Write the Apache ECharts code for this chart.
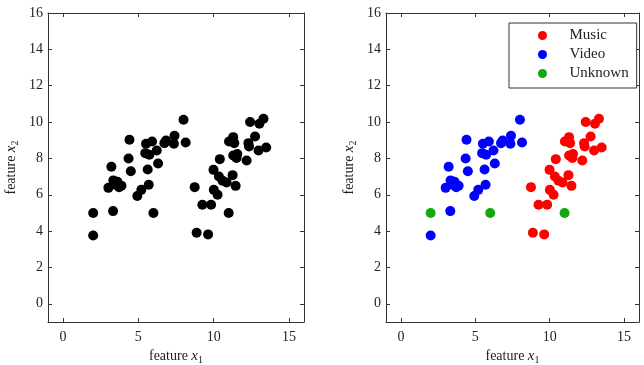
<!DOCTYPE html>
<html>
<head>
<meta charset="utf-8">
<script src="https://cdn.jsdelivr.net/npm/echarts@6/dist/echarts.min.js"></script>
<style>
  html, body {margin: 0; padding: 0; background: #fff;}
  #chart {width: 644px; height: 365px;}
</style>
</head>
<body>
<div id="chart"></div>
<script>
// points, [x1, x2]
var video = [
    [2.0, 3.76], [3.32, 5.1], [3.21, 7.54], [3.01, 6.38], [3.34, 6.79], [3.5, 6.55],
    [3.72, 6.42], [3.61, 6.72], [3.88, 6.5], [4.41, 9.03], [4.35, 8.0], [4.5, 7.29],
    [4.93, 5.93], [5.2, 6.27], [5.69, 6.55], [5.62, 7.39], [5.51, 8.81], [5.46, 8.29],
    [5.73, 8.2], [5.91, 8.93], [6.22, 8.44], [6.31, 7.72], [6.73, 8.84], [6.84, 8.99],
    [7.4, 9.25], [7.36, 8.81], [8.0, 10.13], [8.14, 8.88]
];
var music = [
    [8.74, 6.42], [8.87, 3.91], [9.63, 3.82], [9.25, 5.45], [9.83, 5.45], [9.99, 7.37],
    [10.01, 6.27], [10.26, 6.0], [10.41, 7.96], [10.35, 7.0], [10.59, 6.77], [10.86, 6.68],
    [11.26, 7.08], [11.46, 6.49], [11.02, 8.93], [11.3, 9.17], [11.37, 8.84], [11.3, 8.16],
    [11.57, 8.24], [11.52, 8.02], [12.19, 7.89], [12.42, 10.0], [12.31, 8.84], [12.35, 8.66],
    [12.75, 9.21], [13.04, 9.91], [12.98, 8.44], [13.31, 10.18], [13.49, 8.6]
];
var unknown = [[2, 5], [6, 5], [11, 5]];
var xTicks = [0, 5, 10, 15];
var yTicks = [0, 2, 4, 6, 8, 10, 12, 14, 16];
var legendNames = ['Music', 'Video', 'Unknown'];

var sFont = 'Liberation Serif';
var sFrame = '#333';

function nameRich() {
    return {
        n: {fontFamily: sFont, fontSize: 14, color: '#222'},
        i: {fontFamily: sFont, fontSize: 15, fontStyle: 'italic', color: '#222'},
        s: {fontFamily: sFont, fontSize: 10, color: '#222', padding: [7, 0, 0, 0]}
    };
}

function makeAxis(idx, dim, pos, bMain) {
    var ticks = dim === 'x' ? xTicks : yTicks;
    var oAxis = {
        type: 'value',
        gridIndex: idx,
        position: pos,
        min: -1,
        max: 16,
        axisLine: {show: true, onZero: false, lineStyle: {color: sFrame, width: 1}},
        axisTick: {show: true, inside: true, length: 4, customValues: ticks, lineStyle: {color: sFrame}},
        axisLabel: {
            show: bMain,
            customValues: ticks,
            margin: dim === 'x' ? 8 : 5,
            fontFamily: sFont,
            fontSize: 14,
            color: '#222'
        },
        splitLine: {show: false}
    };
    if (bMain) {
        oAxis.nameLocation = 'middle';
        oAxis.nameTextStyle = {rich: nameRich()};
        if (dim === 'x') {
            oAxis.name = '{n|feature }{i|x}{s|1}';
            oAxis.nameGap = 25;
        } else {
            oAxis.name = '{n|feature }{i|x}{s|2}';
            oAxis.nameGap = 28;
        }
    }
    return oAxis;
}

function dotSeries(name, data, color, idx) {
    return {
        name: name,
        type: 'scatter',
        xAxisIndex: idx * 2,
        yAxisIndex: idx * 2,
        symbol: 'circle',
        symbolSize: 10,
        itemStyle: {color: color, opacity: 1},
        data: data
    };
}

var oChart = echarts.init(document.getElementById('chart'));
var oOpt = {
    animation: false,
    backgroundColor: '#fff',
    grid: [
        {left: 48, top: 13, width: 256, height: 309, outerBoundsMode: 'none'},
        {left: 386, top: 13, width: 253, height: 309, outerBoundsMode: 'none'}
    ],
    xAxis: [
        makeAxis(0, 'x', 'bottom', true), makeAxis(0, 'x', 'top', false),
        makeAxis(1, 'x', 'bottom', true), makeAxis(1, 'x', 'top', false)
    ],
    yAxis: [
        makeAxis(0, 'y', 'left', true), makeAxis(0, 'y', 'right', false),
        makeAxis(1, 'y', 'left', true), makeAxis(1, 'y', 'right', false)
    ],
    legend: {
        data: legendNames,
        orient: 'vertical',
        left: 509,
        top: 23,
        icon: 'circle',
        itemWidth: 44,
        itemHeight: 9,
        itemGap: 4,
        padding: [5, 8, 7, 29],
        borderColor: sFrame,
        borderWidth: 1,
        borderRadius: 0,
        backgroundColor: '#fff',
        textStyle: {fontFamily: sFont, fontSize: 15, lineHeight: 15, color: '#222'}
    },
    series: [
        dotSeries('all', video.concat(music, unknown), '#000', 0),
        dotSeries('Music', music, '#ff0000', 1),
        dotSeries('Video', video, '#0000ff', 1),
        dotSeries('Unknown', unknown, '#10aa10', 1)
    ]
};
oChart.setOption(oOpt);
</script>
</body>
</html>
